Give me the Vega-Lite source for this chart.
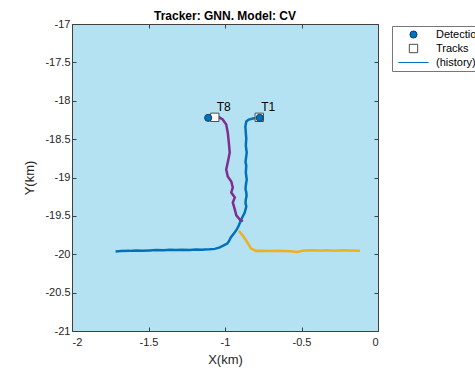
{
  "$schema": "https://vega.github.io/schema/vega-lite/v6.json",
  "width": 306,
  "height": 307,
  "autosize": {"type": "none"},
  "padding": {"left": 72, "top": 24, "right": 97, "bottom": 40},
  "background": "white",
  "title": {"text": "Tracker: GNN. Model: CV", "font": "Liberation Sans", "fontSize": 12, "fontWeight": "bold", "color": "#000000", "offset": -5, "anchor": "middle"},
  "config": {
    "view": {"fill": "#B5E2F2", "stroke": "#404040", "strokeWidth": 1},
    "axis": {"labelFont": "Liberation Sans", "titleFont": "Liberation Sans", "labelFontSize": 11, "titleFontSize": 13, "titleFontWeight": "normal", "labelColor": "#262626", "titleColor": "#262626", "tickColor": "#404040", "domain": false, "grid": false, "tickSize": -4},
    "legend": {"orient": "none", "legendX": 320, "legendY": 2, "fillColor": "#ffffff", "strokeColor": "#777777", "padding": 3, "labelFont": "Liberation Sans", "labelFontSize": 11, "labelColor": "#000000", "symbolOffset": 13, "labelOffset": 17, "rowPadding": 1}
  },
  "datasets": {
    "tracks": [
      {"track": "T1", "i": 0, "x": -1.715, "y": -19.963},
      {"track": "T1", "i": 1, "x": -1.68, "y": -19.958},
      {"track": "T1", "i": 2, "x": -1.624, "y": -19.956},
      {"track": "T1", "i": 3, "x": -1.58, "y": -19.951},
      {"track": "T1", "i": 4, "x": -1.54, "y": -19.955},
      {"track": "T1", "i": 5, "x": -1.493, "y": -19.95},
      {"track": "T1", "i": 6, "x": -1.45, "y": -19.946},
      {"track": "T1", "i": 7, "x": -1.4, "y": -19.948},
      {"track": "T1", "i": 8, "x": -1.362, "y": -19.943},
      {"track": "T1", "i": 9, "x": -1.32, "y": -19.946},
      {"track": "T1", "i": 10, "x": -1.28, "y": -19.94},
      {"track": "T1", "i": 11, "x": -1.231, "y": -19.943},
      {"track": "T1", "i": 12, "x": -1.19, "y": -19.938},
      {"track": "T1", "i": 13, "x": -1.15, "y": -19.942},
      {"track": "T1", "i": 14, "x": -1.133, "y": -19.937},
      {"track": "T1", "i": 15, "x": -1.1, "y": -19.935},
      {"track": "T1", "i": 16, "x": -1.067, "y": -19.93},
      {"track": "T1", "i": 17, "x": -1.034, "y": -19.911},
      {"track": "T1", "i": 18, "x": -1.002, "y": -19.878},
      {"track": "T1", "i": 19, "x": -0.985, "y": -19.86},
      {"track": "T1", "i": 20, "x": -0.975, "y": -19.833},
      {"track": "T1", "i": 21, "x": -0.962, "y": -19.781},
      {"track": "T1", "i": 22, "x": -0.942, "y": -19.729},
      {"track": "T1", "i": 23, "x": -0.923, "y": -19.677},
      {"track": "T1", "i": 24, "x": -0.91, "y": -19.625},
      {"track": "T1", "i": 25, "x": -0.897, "y": -19.56},
      {"track": "T1", "i": 26, "x": -0.884, "y": -19.508},
      {"track": "T1", "i": 27, "x": -0.871, "y": -19.456},
      {"track": "T1", "i": 28, "x": -0.861, "y": -19.377},
      {"track": "T1", "i": 29, "x": -0.866, "y": -19.33},
      {"track": "T1", "i": 30, "x": -0.864, "y": -19.286},
      {"track": "T1", "i": 31, "x": -0.859, "y": -19.24},
      {"track": "T1", "i": 32, "x": -0.861, "y": -19.195},
      {"track": "T1", "i": 33, "x": -0.866, "y": -19.15},
      {"track": "T1", "i": 34, "x": -0.864, "y": -19.104},
      {"track": "T1", "i": 35, "x": -0.858, "y": -19.026},
      {"track": "T1", "i": 36, "x": -0.864, "y": -18.935},
      {"track": "T1", "i": 37, "x": -0.861, "y": -18.844},
      {"track": "T1", "i": 38, "x": -0.866, "y": -18.8},
      {"track": "T1", "i": 39, "x": -0.864, "y": -18.766},
      {"track": "T1", "i": 40, "x": -0.858, "y": -18.675},
      {"track": "T1", "i": 41, "x": -0.864, "y": -18.584},
      {"track": "T1", "i": 42, "x": -0.861, "y": -18.493},
      {"track": "T1", "i": 43, "x": -0.864, "y": -18.414},
      {"track": "T1", "i": 44, "x": -0.867, "y": -18.336},
      {"track": "T1", "i": 45, "x": -0.861, "y": -18.271},
      {"track": "T1", "i": 46, "x": -0.845, "y": -18.245},
      {"track": "T1", "i": 47, "x": -0.818, "y": -18.232},
      {"track": "T1", "i": 48, "x": -0.792, "y": -18.226},
      {"track": "T1", "i": 49, "x": -0.773, "y": -18.223},
      {"track": "T8", "i": 0, "x": -1.087, "y": -18.219},
      {"track": "T8", "i": 1, "x": -1.041, "y": -18.213},
      {"track": "T8", "i": 2, "x": -1.015, "y": -18.245},
      {"track": "T8", "i": 3, "x": -0.992, "y": -18.31},
      {"track": "T8", "i": 4, "x": -0.982, "y": -18.414},
      {"track": "T8", "i": 5, "x": -0.975, "y": -18.545},
      {"track": "T8", "i": 6, "x": -0.969, "y": -18.675},
      {"track": "T8", "i": 7, "x": -0.982, "y": -18.805},
      {"track": "T8", "i": 8, "x": -0.992, "y": -18.896},
      {"track": "T8", "i": 9, "x": -0.982, "y": -18.987},
      {"track": "T8", "i": 10, "x": -0.959, "y": -19.052},
      {"track": "T8", "i": 11, "x": -0.949, "y": -19.13},
      {"track": "T8", "i": 12, "x": -0.959, "y": -19.195},
      {"track": "T8", "i": 13, "x": -0.936, "y": -19.26},
      {"track": "T8", "i": 14, "x": -0.949, "y": -19.325},
      {"track": "T8", "i": 15, "x": -0.936, "y": -19.416},
      {"track": "T8", "i": 16, "x": -0.926, "y": -19.494},
      {"track": "T8", "i": 17, "x": -0.903, "y": -19.547},
      {"track": "T8", "i": 18, "x": -0.884, "y": -19.573},
      {"track": "T5", "i": 0, "x": -0.91, "y": -19.696},
      {"track": "T5", "i": 1, "x": -0.884, "y": -19.755},
      {"track": "T5", "i": 2, "x": -0.858, "y": -19.833},
      {"track": "T5", "i": 3, "x": -0.831, "y": -19.924},
      {"track": "T5", "i": 4, "x": -0.799, "y": -19.956},
      {"track": "T5", "i": 5, "x": -0.75, "y": -19.953},
      {"track": "T5", "i": 6, "x": -0.707, "y": -19.958},
      {"track": "T5", "i": 7, "x": -0.65, "y": -19.954},
      {"track": "T5", "i": 8, "x": -0.609, "y": -19.958},
      {"track": "T5", "i": 9, "x": -0.57, "y": -19.962},
      {"track": "T5", "i": 10, "x": -0.53, "y": -19.969},
      {"track": "T5", "i": 11, "x": -0.484, "y": -19.95},
      {"track": "T5", "i": 12, "x": -0.43, "y": -19.948},
      {"track": "T5", "i": 13, "x": -0.38, "y": -19.952},
      {"track": "T5", "i": 14, "x": -0.33, "y": -19.949},
      {"track": "T5", "i": 15, "x": -0.282, "y": -19.954},
      {"track": "T5", "i": 16, "x": -0.23, "y": -19.948},
      {"track": "T5", "i": 17, "x": -0.183, "y": -19.95},
      {"track": "T5", "i": 18, "x": -0.118, "y": -19.956}
    ],
    "markers": [
      {"leg": "Tracks", "x": -0.776, "y": -18.216, "label": "T1"},
      {"leg": "Tracks", "x": -1.067, "y": -18.216, "label": "T8"},
      {"leg": "Detections", "x": -0.773, "y": -18.223, "label": ""},
      {"leg": "Detections", "x": -1.11, "y": -18.223, "label": ""}
    ]
  },
  "layer": [
    {
      "data": {"name": "tracks"},
      "mark": {"type": "line", "strokeWidth": 2.5, "interpolate": "linear"},
      "encoding": {
        "x": {"field": "x", "type": "quantitative", "scale": {"domain": [-2, 0], "nice": false, "zero": false}, "axis": {"values": [-2, -1.5, -1, -0.5, 0], "title": "X(km)", "labelExpr": "datum.value + ''", "orient": "bottom", "labelPadding": 9, "titlePadding": 6}},
        "y": {"field": "y", "type": "quantitative", "scale": {"domain": [-21, -17], "nice": false, "zero": false}, "axis": {"values": [-21, -20.5, -20, -19.5, -19, -18.5, -18, -17.5, -17], "title": "Y(km)", "labelExpr": "datum.value + ''", "orient": "left", "labelPadding": 6, "titlePadding": 8}},
        "color": {"field": "track", "type": "nominal", "scale": {"domain": ["T1", "T8", "T5"], "range": ["#0072BD", "#7E2F8E", "#EDB120"]}, "legend": null},
        "order": {"field": "i", "type": "quantitative"}
      }
    },
    {
      "data": {"name": "markers"},
      "mark": {"type": "point", "filled": true, "opacity": 1},
      "encoding": {
        "x": {"field": "x", "type": "quantitative", "axis": null},
        "y": {"field": "y", "type": "quantitative", "axis": null},
        "shape": {"field": "leg", "type": "nominal", "scale": {"domain": ["Detections", "Tracks", "(history)"], "range": ["circle", "square", "M-3.2,0L3.2,0"]}, "title": null,
          "legend": {"encode": {"symbols": {"update": {"stroke": {"scale": "stroke", "field": "value"}, "strokeWidth": {"scale": "strokeWidth", "field": "value"}, "fill": {"scale": "fill", "field": "value"}}}}}},
        "fill": {"field": "leg", "type": "nominal", "scale": {"domain": ["Detections", "Tracks", "(history)"], "range": ["#0072BD", "#ffffff", "#0072BD"]}, "title": null},
        "stroke": {"field": "leg", "type": "nominal", "scale": {"domain": ["Detections", "Tracks", "(history)"], "range": ["#0a3f66", "#4d4d4d", "#0072BD"]}, "title": null},
        "size": {"field": "leg", "type": "nominal", "scale": {"domain": ["Detections", "Tracks", "(history)"], "range": [50, 90, 64]}, "title": null},
        "strokeWidth": {"field": "leg", "type": "nominal", "scale": {"domain": ["Detections", "Tracks", "(history)"], "range": [1, 1, 2.5]}, "title": null},
        "order": {"field": "leg", "type": "nominal", "sort": "descending"}
      }
    },
    {
      "data": {"name": "markers"},
      "transform": [{"filter": "datum.label != ''"}],
      "mark": {"type": "text", "font": "Liberation Sans", "fontSize": 12, "color": "#000000", "dx": 9, "dy": -10, "align": "center", "baseline": "middle"},
      "encoding": {
        "x": {"field": "x", "type": "quantitative", "axis": {"orient": "top", "labels": false, "title": null, "values": [-2, -1.5, -1, -0.5, 0], "tickSize": -4}},
        "y": {"field": "y", "type": "quantitative", "axis": {"orient": "right", "labels": false, "title": null, "values": [-21, -20.5, -20, -19.5, -19, -18.5, -18, -17.5, -17], "tickSize": -4}},
        "text": {"field": "label"}
      }
    }
  ],
  "resolve": {"axis": {"x": "independent", "y": "independent"}}
}
